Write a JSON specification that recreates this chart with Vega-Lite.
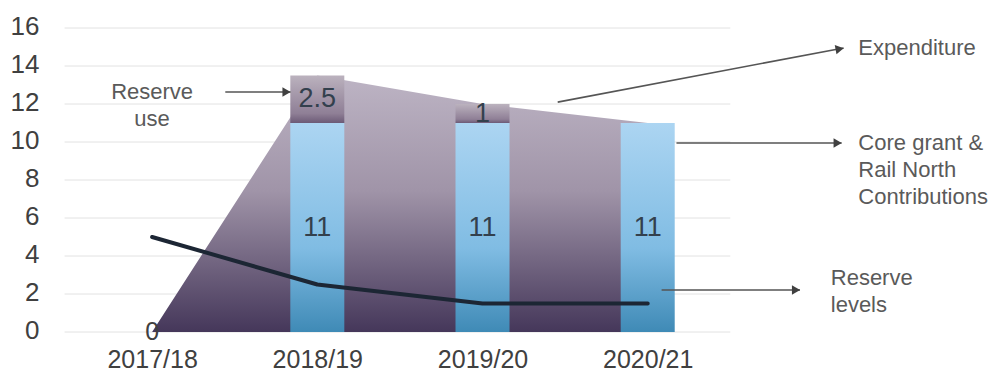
{
  "$schema": "https://vega.github.io/schema/vega-lite/v6.json",
  "width": 932,
  "height": 304,
  "autosize": {"type": "none"},
  "padding": {"left": 65, "top": 28, "right": 0, "bottom": 42},
  "background": "white",
  "config": {"view": {"stroke": null}, "font": "Liberation Sans", "axis": {"labelOverlap": false, "labelBound": false, "labelFlush": false}},
  "datasets": {
    "years": [
      {"year": "2017/18", "i": 0, "expenditure": 0, "reserve": 5},
      {"year": "2018/19", "i": 1, "expenditure": 13.5, "reserve": 2.5},
      {"year": "2019/20", "i": 2, "expenditure": 12, "reserve": 1.5},
      {"year": "2020/21", "i": 3, "expenditure": 11, "reserve": 1.5}
    ],
    "parts": [
      {"i": 1, "part": "Core grant & Rail North Contributions", "order": 1, "value": 11},
      {"i": 1, "part": "Reserve use", "order": 2, "value": 2.5},
      {"i": 2, "part": "Core grant & Rail North Contributions", "order": 1, "value": 11},
      {"i": 2, "part": "Reserve use", "order": 2, "value": 1},
      {"i": 3, "part": "Core grant & Rail North Contributions", "order": 1, "value": 11}
    ],
    "grid": [{"v": 0}, {"v": 2}, {"v": 4}, {"v": 6}, {"v": 8}, {"v": 10}, {"v": 12}, {"v": 14}, {"v": 16}],
    "notesLeft": [
      {"label": "Expenditure", "x": 4.275, "y": 14.58},
      {"label": "Core grant &\nRail North\nContributions", "x": 4.275, "y": 9.58},
      {"label": "Reserve\nlevels", "x": 4.108, "y": 2.47}
    ],
    "notesCenter": [
      {"label": "Reserve\nuse", "x": 0, "y": 12.26}
    ],
    "arrows": [
      {"name": "Expenditure", "x": 2.455, "y": 12.1, "x2": 4.186, "y2": 14.95},
      {"name": "Core grant", "x": 3.174, "y": 9.95, "x2": 4.174, "y2": 9.95},
      {"name": "Reserve levels", "x": 3.084, "y": 2.21, "x2": 3.922, "y2": 2.21},
      {"name": "Reserve use", "x": 0.443, "y": 12.63, "x2": 0.838, "y2": 12.63}
    ]
  },
  "layer": [
    {
      "data": {"name": "grid"},
      "mark": {"type": "rule", "color": "#e2e2e2", "strokeWidth": 1},
      "encoding": {
        "x": {"datum": -0.53, "type": "quantitative", "scale": {"domain": [-0.497, 5.084], "nice": false, "zero": false, "clamp": false},
          "axis": {"values": [0, 1, 2, 3], "labelExpr": "['2017/18','2018/19','2019/20','2020/21'][datum.value]", "title": null, "domain": false, "ticks": false, "grid": false, "labelFontSize": 25, "labelColor": "#404040", "labelPadding": 15, "labelFlush": false, "labelOverlap": false, "labelFont": "Liberation Sans"}},
        "x2": {"datum": 3.5},
        "y": {"field": "v", "type": "quantitative", "scale": {"domain": [0, 16], "nice": false},
          "axis": {"values": [0, 2, 4, 6, 8, 10, 12, 14, 16], "tickCount": 9, "title": null, "domain": false, "ticks": false, "grid": false, "labelAlign": "right", "labelPadding": 26, "labelFontSize": 26, "labelColor": "#404040", "labelOverlap": false, "labelFlush": false, "labelOffset": -2, "labelFont": "Liberation Sans"}}
      }
    },
    {
      "data": {"name": "years"},
      "mark": {
        "type": "area",
        "fill": {"gradient": "linear", "x1": 0, "y1": 0, "x2": 0, "y2": 1,
          "stops": [{"offset": 0, "color": "#bdb4c4"}, {"offset": 0.45, "color": "#a094a8"}, {"offset": 1, "color": "#45375a"}]}
      },
      "encoding": {
        "x": {"field": "i", "type": "quantitative", "scale": {"domain": [-0.497, 5.084], "nice": false, "zero": false}},
        "y": {"field": "expenditure", "type": "quantitative", "scale": {"domain": [0, 16], "nice": false}}
      }
    },
    {
      "data": {"name": "parts"},
      "transform": [
        {"stack": "value", "groupby": ["i"], "sort": [{"field": "order"}], "as": ["v0", "v1"]},
        {"filter": "datum.order === 1"}
      ],
      "mark": {
        "type": "bar", "width": 54,
        "fill": {"gradient": "linear", "x1": 0, "y1": 0, "x2": 0, "y2": 1,
          "stops": [{"offset": 0, "color": "#acd5f2"}, {"offset": 0.6, "color": "#80bce3"}, {"offset": 1, "color": "#3f8ab6"}]}
      },
      "encoding": {
        "x": {"field": "i", "type": "quantitative", "scale": {"domain": [-0.497, 5.084], "nice": false, "zero": false}},
        "y": {"field": "v1", "type": "quantitative", "scale": {"domain": [0, 16], "nice": false}},
        "y2": {"field": "v0"}
      }
    },
    {
      "data": {"name": "parts"},
      "transform": [
        {"stack": "value", "groupby": ["i"], "sort": [{"field": "order"}], "as": ["v0", "v1"]},
        {"filter": "datum.order === 2"}
      ],
      "mark": {
        "type": "bar", "width": 54,
        "fill": {"gradient": "linear", "x1": 0, "y1": 0, "x2": 0, "y2": 1,
          "stops": [{"offset": 0, "color": "#bbb2be"}, {"offset": 0.8, "color": "#8f7f96"}, {"offset": 1, "color": "#6c5a76"}]}
      },
      "encoding": {
        "x": {"field": "i", "type": "quantitative", "scale": {"domain": [-0.497, 5.084], "nice": false, "zero": false}},
        "y": {"field": "v1", "type": "quantitative", "scale": {"domain": [0, 16], "nice": false}},
        "y2": {"field": "v0"}
      }
    },
    {
      "data": {"name": "years"},
      "mark": {"type": "line", "color": "#1c2634", "strokeWidth": 4, "interpolate": "linear", "strokeJoin": "round", "strokeCap": "round"},
      "encoding": {
        "x": {"field": "i", "type": "quantitative", "scale": {"domain": [-0.497, 5.084], "nice": false, "zero": false}},
        "y": {"field": "reserve", "type": "quantitative", "scale": {"domain": [0, 16], "nice": false}}
      }
    },
    {
      "data": {"name": "parts"},
      "transform": [
        {"stack": "value", "groupby": ["i"], "sort": [{"field": "order"}], "as": ["v0", "v1"]},
        {"calculate": "(datum.v0 + datum.v1) / 2", "as": "mid"}
      ],
      "mark": {"type": "text", "fontSize": 27, "color": "#33404d", "baseline": "middle", "align": "center"},
      "encoding": {
        "x": {"field": "i", "type": "quantitative", "scale": {"domain": [-0.497, 5.084], "nice": false, "zero": false}},
        "y": {"field": "mid", "type": "quantitative", "scale": {"domain": [0, 16], "nice": false}},
        "text": {"field": "value", "type": "quantitative"}
      }
    },
    {
      "data": {"name": "years"},
      "transform": [{"filter": "datum.expenditure === 0"}],
      "mark": {"type": "text", "fontSize": 25, "color": "#404040", "baseline": "middle", "align": "center", "dy": 0},
      "encoding": {
        "x": {"field": "i", "type": "quantitative", "scale": {"domain": [-0.497, 5.084], "nice": false, "zero": false}},
        "y": {"field": "expenditure", "type": "quantitative", "scale": {"domain": [0, 16], "nice": false}},
        "text": {"field": "expenditure", "type": "quantitative"}
      }
    },
    {
      "data": {"name": "arrows"},
      "mark": {"type": "rule", "color": "#555555", "strokeWidth": 1.6},
      "encoding": {
        "x": {"field": "x", "type": "quantitative", "scale": {"domain": [-0.497, 5.084], "nice": false, "zero": false}},
        "x2": {"field": "x2"},
        "y": {"field": "y", "type": "quantitative", "scale": {"domain": [0, 16], "nice": false}},
        "y2": {"field": "y2"}
      }
    },
    {
      "data": {"name": "arrows"},
      "transform": [{"filter": "datum.name !== 'Expenditure'"}],
      "mark": {"type": "point", "shape": "triangle-right", "filled": true, "color": "#404040", "size": 90, "opacity": 1, "xOffset": -4},
      "encoding": {
        "x": {"field": "x2", "type": "quantitative", "scale": {"domain": [-0.497, 5.084], "nice": false, "zero": false}},
        "y": {"field": "y2", "type": "quantitative", "scale": {"domain": [0, 16], "nice": false}}
      }
    },
    {
      "data": {"name": "arrows"},
      "transform": [{"filter": "datum.name === 'Expenditure'"}],
      "mark": {"type": "point", "shape": "triangle-right", "filled": true, "color": "#404040", "size": 90, "opacity": 1, "angle": -10.6, "xOffset": -4, "yOffset": 1},
      "encoding": {
        "x": {"field": "x2", "type": "quantitative", "scale": {"domain": [-0.497, 5.084], "nice": false, "zero": false}},
        "y": {"field": "y2", "type": "quantitative", "scale": {"domain": [0, 16], "nice": false}}
      }
    },
    {
      "data": {"name": "notesLeft"},
      "mark": {"type": "text", "fontSize": 22, "color": "#5a5a5a", "align": "left", "baseline": "alphabetic", "lineBreak": "\n", "lineHeight": 27},
      "encoding": {
        "x": {"field": "x", "type": "quantitative", "scale": {"domain": [-0.497, 5.084], "nice": false, "zero": false}},
        "y": {"field": "y", "type": "quantitative", "scale": {"domain": [0, 16], "nice": false}},
        "text": {"field": "label"}
      }
    },
    {
      "data": {"name": "notesCenter"},
      "mark": {"type": "text", "fontSize": 22, "color": "#5a5a5a", "align": "center", "baseline": "alphabetic", "lineBreak": "\n", "lineHeight": 27},
      "encoding": {
        "x": {"field": "x", "type": "quantitative", "scale": {"domain": [-0.497, 5.084], "nice": false, "zero": false}},
        "y": {"field": "y", "type": "quantitative", "scale": {"domain": [0, 16], "nice": false}},
        "text": {"field": "label"}
      }
    }
  ]
}
